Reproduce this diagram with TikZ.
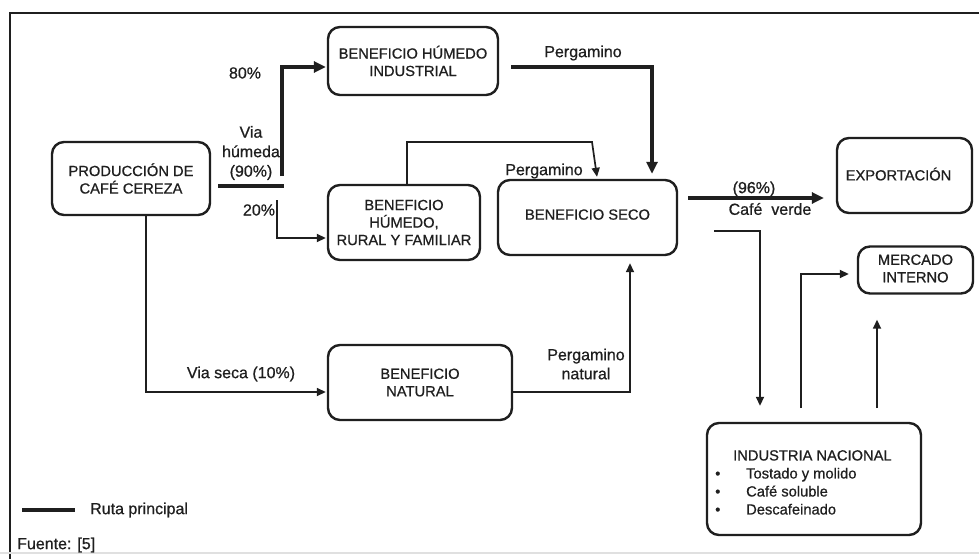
\documentclass[tikz,border=0pt]{standalone}
\usepackage{fontspec}
\setmainfont{Liberation Sans}[FakeBold=0.7]
\usetikzlibrary{arrows.meta,calc}
\definecolor{ink}{gray}{0.12}
\begin{document}
\begin{tikzpicture}[x=1pt,y=-1pt,
  box/.style={draw=ink, line width=2.4pt, rounded corners=12pt, align=center,
    inner sep=0pt, text=ink, font=\fontsize{14.7}{17.5}\selectfont},
  lbl/.style={inner sep=0pt, text=ink, align=center, font=\fontsize{16}{19}\selectfont},
  mainline/.style={draw=ink, line width=4pt},
  mainarrow/.style={draw=ink, line width=4pt, -{Triangle[length=12pt,width=11pt]}},
  thinline/.style={draw=ink, line width=1.7pt},
  thinarrow/.style={draw=ink, line width=1.7pt, -{Triangle[length=9pt,width=8pt]}},
  frameline/.style={draw=ink, line width=2.6pt}]
\useasboundingbox (0,0) rectangle (979,559);
\fill[white] (0,0) rectangle (979,559);
% frame
\coordinate (fTL) at (10,13);
\coordinate (fTR) at (979,13);
\coordinate (fBL) at (10,559);
\draw[frameline] (fBL) -- (fTL) -- (fTR);
\coordinate (bL) at (0,553);
\coordinate (bR) at (979,553);
\draw[draw=black!12, line width=1.5pt] (bL) -- (bR);

% nodes
\node[box, minimum width=158, minimum height=73] (prod) at (131,178.5) {PRODUCCIÓN DE\\CAFÉ CEREZA};
\node[box, minimum width=170, minimum height=68] (bhi) at (413,61) {BENEFICIO HÚMEDO\\INDUSTRIAL};
\node[box, minimum width=152, minimum height=75] (bhr) at (404,222.5) {BENEFICIO\\HÚMEDO,\\RURAL Y FAMILIAR};
\node[box, minimum width=179, minimum height=75] (bsec) at (587.5,217.5) {\raisebox{6pt}{BENEFICIO SECO}};
\node[box, minimum width=135, minimum height=75] (exp) at (904.5,175.5) {\raisebox{3pt}{EXPORTACIÓN\hspace*{12pt}}};
\node[box, minimum width=115, minimum height=47] (merc) at (915.5,270) {\raisebox{3pt}{\begin{tabular}{@{}c@{}}MERCADO\\INTERNO\end{tabular}}};
\node[box, minimum width=184, minimum height=75] (bnat) at (420,382.5) {BENEFICIO\\NATURAL};
\node[box, minimum width=214, minimum height=112] (ind) at (814,479) {};
\node[anchor=north west, inner sep=0pt, align=left, text=ink,
  font=\fontsize{14.7}{18}\selectfont] (indtext) at (715,450)
  {\hspace*{18pt}INDUSTRIA NACIONAL\\
   \makebox[31pt][l]{\textbullet}Tostado y molido\\
   \makebox[31pt][l]{\textbullet}Café soluble\\
   \makebox[31pt][l]{\textbullet}Descafeinado};

% main route: wet processing
\coordinate (wStart) at (218,186);
\coordinate (wEnd) at (284,186);
\draw[mainline] (wStart) -- (wEnd);
\coordinate (upStart) at (282,176);
\draw[mainarrow] (upStart) |- ($(bhi.west)+(-1,6)$);
\coordinate (downStart) at (277,200);
\draw[thinarrow] (downStart) |- ($(bhr.west)+(-1,15.5)$);

% bhi -> bsec
\draw[mainarrow] ($(bhi.east)+(12,6)$) -| ($(bsec.north)+(64.5,-5)$);
% bhr -> bsec
\coordinate (bend1) at (407,142);
\coordinate (bend2) at (592,142);
\draw[thinarrow] ($(bhr.north)+(3,0)$) -- (bend1) -- (bend2) -- ($(bsec.north)+(9.5,-2)$);
% bsec -> exp
\draw[mainarrow] ($(bsec.east)+(10,-19.5)$) -- ($(exp.west)+(-12,22.5)$);
% bsec -> ind
\coordinate (s1) at (714,231);
\coordinate (s2) at (760,231);
\draw[thinarrow] (s1) -- (s2) -- ($(ind.north)+(-54,-16)$);
% ind -> merc
\coordinate (m1) at (801,408);
\coordinate (m2) at (801,274);
\draw[thinarrow] (m1) -- (m2) -- ($(merc.west)+(-8,4)$);
\coordinate (m3) at (877,408);
\draw[thinarrow] (m3) -- ($(merc.south)+(-38.5,25)$);
% dry processing
\draw[thinarrow] ($(prod.south)+(15,0)$) |- ($(bnat.west)+(-1,9.5)$);
\coordinate (n1) at (630,392);
\draw[thinarrow] ($(bnat.east)+(0,9.5)$) -- (n1) -- ($(bsec.south)+(42.5,7)$);

% labels
\node[lbl] (l80) at (245,73) {80\%};
\node[lbl, font=\fontsize{16}{19.5}\selectfont] (lvh) at (251,153) {Via\\húmeda\\(90\%)};
\node[lbl] (l20) at (259,210) {20\%};
\node[lbl] (lperg1) at (583,53) {Pergamino};
\node[lbl] (lperg2) at (544,171) {Pergamino};
\node[lbl] (l96) at (754,189) {(96\%)};
\node[lbl] (lcv) at (770,209) {Café\ \ verde};
\node[lbl] (lvs) at (241,374) {Via seca (10\%)};
\node[lbl] (lpn) at (586,364) {Pergamino\\natural};

% legend
\coordinate (lg1) at (22,510);
\coordinate (lg2) at (75,510);
\draw[mainline] (lg1) -- (lg2);
\node[lbl, anchor=west] (lrp) at (90,510) {Ruta principal};
\node[lbl, anchor=west] (lf) at (17,545) {Fuente: [5]};
\end{tikzpicture}
\end{document}
